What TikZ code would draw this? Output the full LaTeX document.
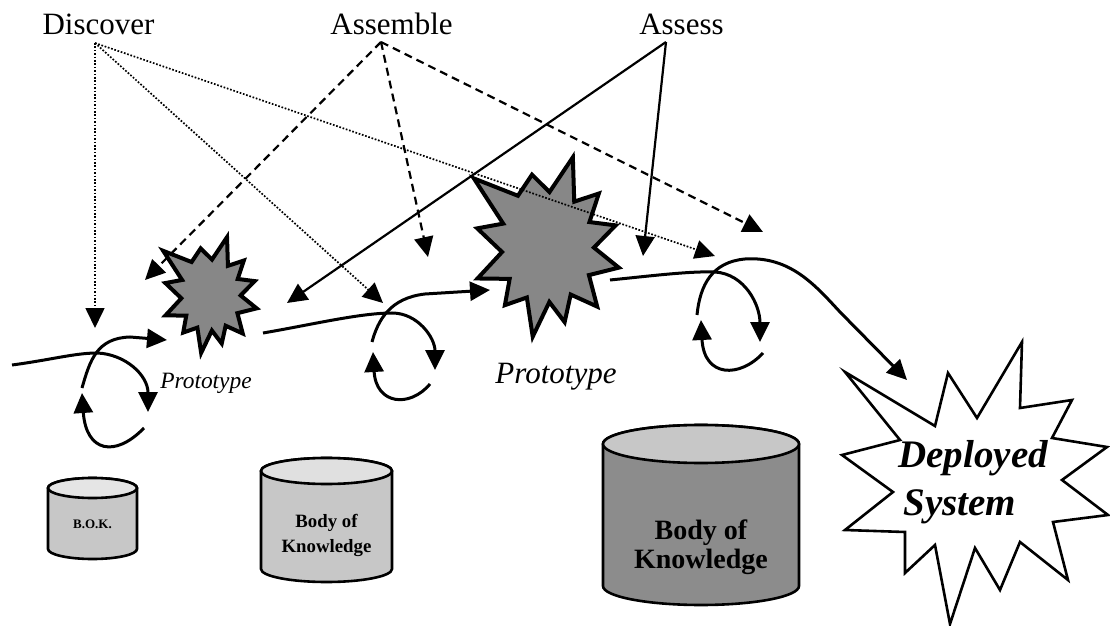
\documentclass[tikz,border=0pt]{standalone}
\usepackage{fontspec}
\setmainfont{Liberation Serif}
\usetikzlibrary{arrows.meta}
\begin{document}
\begin{tikzpicture}[x=0.5pt,y=-0.5pt,
  tri/.tip={Triangle[length=10pt,width=9.5pt]},
  flow/.style={line width=1.5pt,-tri},
  discline/.style={line width=0.85pt,dash pattern=on 0.85pt off 0.85pt,-tri},
  asmline/.style={line width=1.1pt,dash pattern=on 4pt off 2.6pt,-tri},
  assline/.style={line width=1.1pt,-tri},
  phase/.style={font=\fontsize{15.5}{18}\selectfont, inner sep=0pt, anchor=base},
  proto/.style={draw=black, line width=2pt, fill=black!47, line join=miter, miter limit=6},
  cyl/.style={draw=black, line width=1.3pt},
  cyltext/.style={font=\bfseries, align=center, inner sep=0pt},
]
\useasboundingbox (0,0) rectangle (1110,626);

% ---------- cylinders (Body of Knowledge) ----------
\draw[cyl, fill=black!22] (48,488) -- (48,549) arc[start angle=180,end angle=360,x radius=22.25pt,y radius=5pt]
   -- (137,488) arc[start angle=0,end angle=180,x radius=22.25pt,y radius=5pt] -- cycle;
\draw[cyl, fill=black!10] (92.5,488) ellipse[x radius=22.25pt,y radius=5pt];
\node[cyltext, font=\bfseries\fontsize{6.5}{8}\selectfont] (bok1) at (92.5,524) {B.O.K.};

\draw[cyl, fill=black!22] (261,471) -- (261,569) arc[start angle=180,end angle=360,x radius=32.75pt,y radius=6.5pt]
   -- (392,471) arc[start angle=0,end angle=180,x radius=32.75pt,y radius=6.5pt] -- cycle;
\draw[cyl, fill=black!12] (326.5,471) ellipse[x radius=32.75pt,y radius=6.5pt];
\node[cyltext, font=\bfseries\fontsize{9.4}{12.5}\selectfont] (bok2) at (326.5,535) {Body of\\Knowledge};

\draw[cyl, fill=black!45] (603,444) -- (603,586) arc[start angle=180,end angle=360,x radius=49pt,y radius=9.5pt]
   -- (799,444) arc[start angle=0,end angle=180,x radius=49pt,y radius=9.5pt] -- cycle;
\draw[cyl, fill=black!22] (701,444) ellipse[x radius=49pt,y radius=9.5pt];
\node[cyltext, font=\bfseries\fontsize{14}{14.5}\selectfont] (bok3) at (701,547) {Body of\\Knowledge};

% ---------- prototype stars ----------
\coordinate (p1) at (211,297);
\coordinate (p2) at (548,250);
\foreach \c/\s in {p1/0.645, p2/1}{
  \draw[proto, shift={(\c)}, scale=\s] (-136:103)
    \foreach \a/\r in {-119/62, -102/77, -88.5/58, -75/96, -61.5/55, -48/76, -34/50, -20/72, -3/46,
       14/73, 31.5/48, 49/75, 63/50, 77/74, 88.5/52, 100/88, 114/52, 128/70, 143/48, 158/76,
       177.5/46, -163/74, -149.5/52} { -- (\a:\r) } -- cycle;
}
\node[font=\itshape\fontsize{11.7}{14}\selectfont, anchor=base, inner sep=0pt] (proto1) at (206,388) {Prototype};
\node[font=\itshape\fontsize{15.5}{18}\selectfont, anchor=base, inner sep=0pt] (proto2) at (556,383) {Prototype};

% ---------- deployed system star ----------
\draw[line width=1.3pt, fill=white, line join=miter] (845,372) -- (935,426) -- (948,373) -- (977,418) -- (1022,342)
  -- (1020,408) -- (1072,400) -- (1052,438) -- (1107,447) -- (1062,480) -- (1108,515) -- (1053,522)
  -- (1068,580) -- (1020,542) -- (1000,590) -- (975,548) -- (950,624) -- (935,545) -- (905,573)
  -- (905,532) -- (845,530) -- (893,492) -- (842,455) -- (900,440) -- cycle;
\node[font=\bfseries\itshape\fontsize{19.5}{24}\selectfont, anchor=base west, inner sep=0pt] (dep1) at (898,467) {Deployed};
\node[font=\bfseries\itshape\fontsize{19.5}{24}\selectfont, anchor=base west, inner sep=0pt] (dep2) at (903,515) {System};

% ---------- flow with loops ----------
% loop 1
\draw[flow] (12,365) .. controls (50,360) and (75,353) .. (97,353) .. controls (125,354) and (148,375) .. (148,412);
\draw[flow] (82,388) .. controls (90,360) and (97,338) .. (130,337) -- (167,340);
\draw[flow] (144,428) .. controls (115,458) and (86,452) .. (82,393);
% loop 2
\draw[flow] (263,333) .. controls (310,325) and (360,313) .. (392,313) .. controls (418,313) and (435,338) .. (435,370);
\draw[flow] (372,342) .. controls (378,320) and (390,298) .. (425,294) -- (490,290);
\draw[flow] (430,384) .. controls (410,408) and (376,405) .. (373,352);
% loop 3
\draw[flow] (610,280) .. controls (650,276) and (690,271) .. (715,272) .. controls (745,274) and (760,305) .. (760,342);
\draw[flow] (697,315) .. controls (700,285) and (712,262) .. (745,259) .. controls (790,256) and (815,285) .. (840,312) -- (907,380);
\draw[flow] (763,353) .. controls (740,378) and (704,378) .. (701,320);

% ---------- phase labels and their arrows ----------
\node[phase] (discover) at (98.5,35) {Discover};
\node[phase] (assemble) at (391.5,35) {Assemble};
\node[phase] (assess) at (681.5,35) {Assess};
\coordinate (dA) at (95,43);
\coordinate (aA) at (381,42);
\coordinate (sA) at (666,42);

\coordinate (d1) at (95,328);
\coordinate (d2) at (383,303);
\coordinate (d3) at (715,256);
\coordinate (a1) at (145,280);
\coordinate (a2) at (428,257);
\coordinate (a3) at (763,232);
\coordinate (s1) at (287,303);
\coordinate (s2) at (643,256);

\draw[discline] (dA) -- (d1);
\draw[discline] (dA) -- (d2);
\draw[discline] (dA) -- (d3);
\draw[asmline] (aA) -- (a1);
\draw[asmline] (aA) -- (a2);
\draw[asmline] (aA) -- (a3);
\draw[assline] (sA) -- (s1);
\draw[assline] (sA) -- (s2);
\end{tikzpicture}
\end{document}
